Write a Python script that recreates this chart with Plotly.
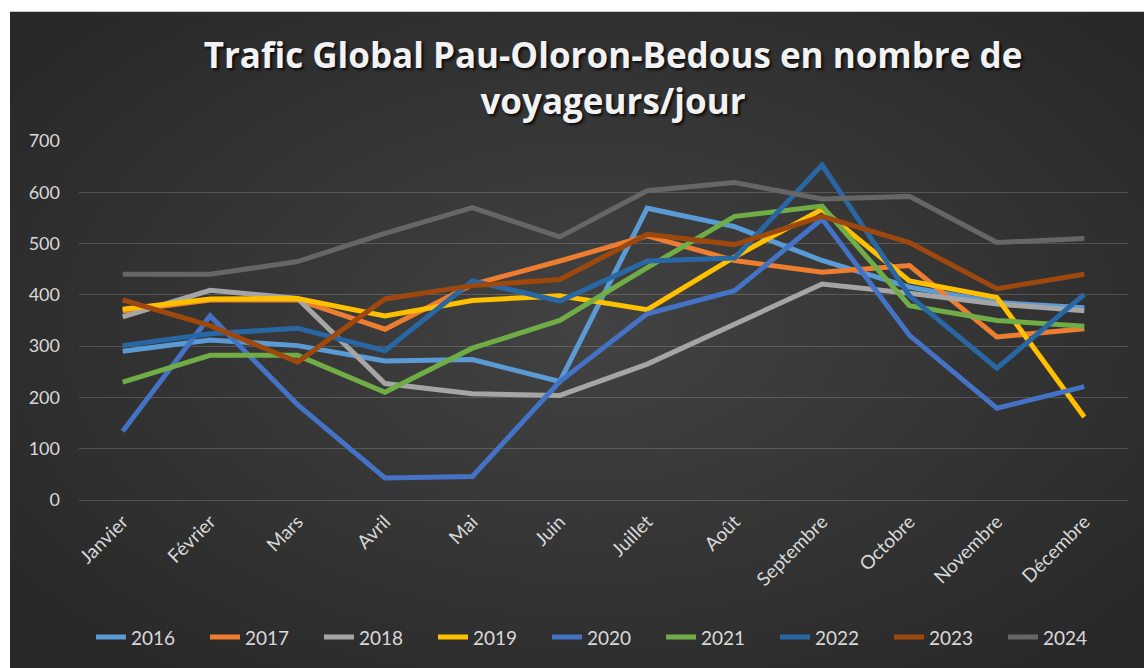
import plotly.graph_objects as go

# ---------------- data ----------------
months = ["Janvier", "Février", "Mars", "Avril", "Mai", "Juin", "Juillet",
          "Août", "Septembre", "Octobre", "Novembre", "Décembre"]

years = ["2016", "2017", "2018", "2019", "2020", "2021", "2022", "2023", "2024"]

v2016 = [290, 312, 301, 271, 274, 231, 569, 533, 467, 415, 385, 375]
v2017 = [368, 390, 390, 333, 420, 466, 515, 467, 444, 457, 318, 334]
v2018 = [357, 409, 393, 227, 207, 204, 265, 342, 421, 403, 382, 369]
v2019 = [372, 392, 393, 359, 389, 398, 371, 474, 567, 427, 395, 162]
v2020 = [134, 359, 186, 43, 46, 231, 363, 408, 548, 321, 179, 221]
v2021 = [230, 282, 282, 210, 296, 350, 453, 553, 573, 379, 350, 339]
v2022 = [301, 324, 335, 291, 427, 388, 466, 472, 653, 398, 257, 401]
v2023 = [390, 340, 269, 392, 418, 430, 518, 498, 553, 502, 412, 440]
v2024 = [440, 440, 465, 520, 570, 513, 603, 619, 587, 592, 502, 510]

series = [v2016, v2017, v2018, v2019, v2020, v2021, v2022, v2023, v2024]

colors = ["#5B9BD5", "#ED7D31", "#A5A5A5", "#FFC000", "#4472C4",
          "#70AD47", "#2867A3", "#9E480E", "#666666"]

y_ticks = [0, 100, 200, 300, 400, 500, 600, 700]

title_text = "Trafic Global Pau-Oloron-Bedous en nombre de<br>voyageurs/jour"

# ---------------- layout geometry ----------------
W, H = 1144, 668
L, R, T, B = 79, 16, 141, 166
PW, PH = W - L - R, H - T - B


def px_x(p):
    return (p - L) / PW


def px_y(p):
    return (H - B - p) / PH


fig = go.Figure()

for name, vals, col in zip(years, series, colors):
    fig.add_trace(go.Scatter(
        x=months, y=vals, name=name, mode="lines",
        line=dict(color=col, width=5),
    ))

# background: white border, dark panel, soft radial highlight
shapes = [dict(type="rect", xref="paper", yref="paper",
               x0=px_x(10), x1=px_x(W + 20), y0=px_y(11), y1=px_y(H + 20),
               fillcolor="#282828", line=dict(width=0), layer="below")]
cx, cy = 590, 330
n = 26
for i in range(n):
    f = 1 - i / n
    rx, ry = 720 * f, 440 * f
    shapes.append(dict(type="circle", xref="paper", yref="paper",
                       x0=px_x(cx - rx), x1=px_x(cx + rx),
                       y0=px_y(cy + ry), y1=px_y(cy - ry),
                       fillcolor="rgba(255,255,255,0.0068)",
                       line=dict(width=0), layer="below"))

fig.update_layout(
    width=W, height=H,
    margin=dict(l=L, r=R, t=T, b=B),
    paper_bgcolor="white",
    plot_bgcolor="rgba(0,0,0,0)",
    shapes=shapes,
    font=dict(family="Lato", color="#D9D9D9"),
    title=dict(
        text=title_text,
        font=dict(family="Open Sans", size=35, color="#F2F2F2", weight="bold",
                  shadow="2px 2px 3px rgba(0,0,0,0.8)"),
        x=613 / W, xanchor="center", xref="container",
        y=1 - 68 / H, yanchor="middle", yref="container",
    ),
    xaxis=dict(
        type="category", tickangle=-45, range=[-0.5, 11.5],
        tickfont=dict(family="Lato", size=19, color="#D9D9D9"),
        showgrid=False, zeroline=False, showline=False,
        ticks="", ticklabelstandoff=6,
    ),
    yaxis=dict(
        range=[0, 700], tickvals=y_ticks,
        tickfont=dict(family="Lato", size=18, color="#D9D9D9"),
        showgrid=True, gridcolor="rgba(255,255,255,0.17)", gridwidth=1,
        zeroline=True, zerolinecolor="rgba(255,255,255,0.17)", zerolinewidth=1,
        showline=False, ticks="", ticklabelstandoff=18,
    ),
    legend=dict(
        orientation="h", x=px_x(604), xanchor="center",
        y=px_y(640), yanchor="middle",
        font=dict(family="Lato", size=19, color="#D9D9D9"),
        bgcolor="rgba(0,0,0,0)",
        entrywidth=69,
    ),
    showlegend=True,
)

fig.write_html(
    "out.html",
    config={"displayModeBar": False},
    post_script="document.body.style.margin='0';document.body.style.overflow='hidden';",
)
